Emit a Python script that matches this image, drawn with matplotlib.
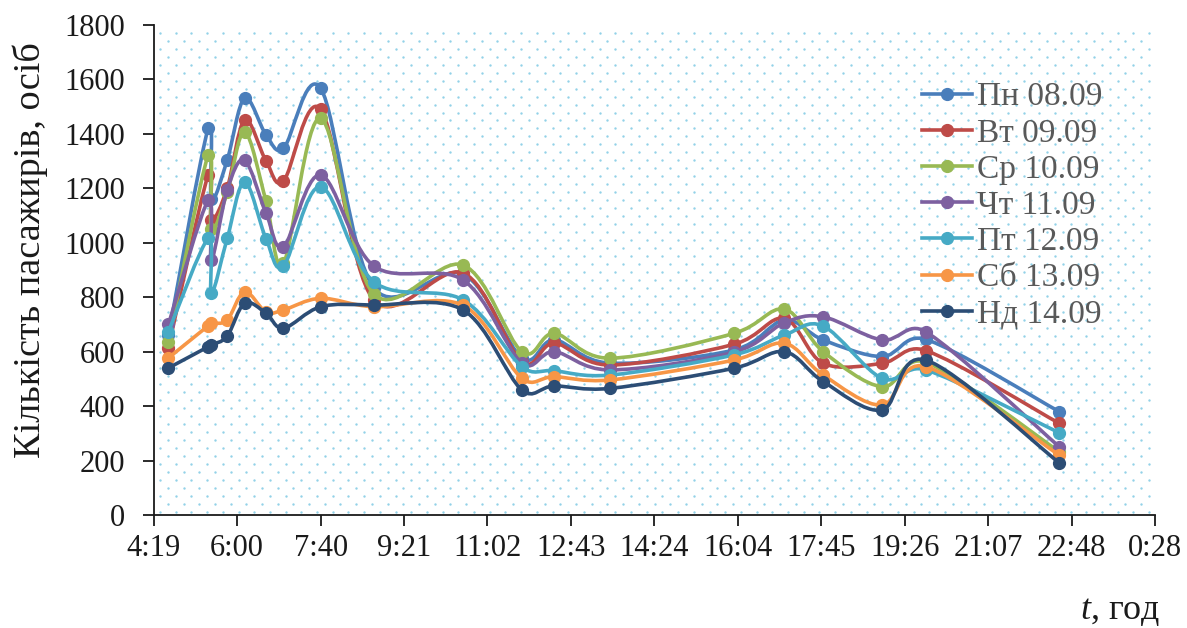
import numpy as np
import matplotlib
matplotlib.use("Agg")
import matplotlib.pyplot as plt
from matplotlib.path import Path
from matplotlib.patches import PathPatch
from matplotlib.lines import Line2D
from matplotlib.ticker import FixedLocator, FuncFormatter

plt.rcParams['font.family'] = ['Liberation Serif', 'DejaVu Serif']
plt.rcParams['mathtext.fontset'] = 'custom'
plt.rcParams['mathtext.it'] = 'Liberation Serif:italic'
plt.rcParams['mathtext.rm'] = 'Liberation Serif'

# measurement times (h:mm)
times = ["4:37", "5:25", "5:29", "5:48", "6:09", "6:35", "6:56", "7:41", "8:45",
         "10:33", "11:44", "12:23", "13:30", "16:00", "17:01", "17:48", "18:59",
         "19:52", "22:33"]

mon = [660, 1420, 1160, 1304, 1531, 1396, 1347, 1567, 835, 885, 577, 643, 558, 606, 716, 643, 582, 645, 380]
tue = [615, 1250, 1084, 1200, 1451, 1300, 1227, 1490, 790, 889, 563, 631, 551, 627, 722, 557, 557, 604, 337]
wed = [637, 1322, 1050, 1185, 1408, 1153, 925, 1457, 812, 918, 600, 667, 576, 667, 756, 600, 471, 561, 233]
thu = [700, 1157, 937, 1194, 1304, 1108, 986, 1249, 915, 863, 558, 600, 533, 598, 706, 728, 643, 673, 251]
fri = [673, 1016, 815, 1016, 1224, 1014, 915, 1206, 857, 790, 545, 530, 514, 588, 661, 694, 502, 533, 302]
sat = [577, 695, 704, 716, 820, 745, 753, 796, 765, 770, 502, 508, 496, 569, 631, 514, 404, 545, 220]
sun = [540, 618, 625, 657, 778, 741, 686, 765, 771, 753, 459, 474, 465, 539, 600, 490, 386, 569, 192]

labels = ["Пн 08.09", "Вт 09.09", "Ср 10.09", "Чт 11.09", "Пт 12.09", "Сб 13.09", "Нд 14.09"]
series = [mon, tue, wed, thu, fri, sat, sun]
colors = ["#4a7ebb", "#be4b48", "#98b954", "#7d60a0", "#46aac5", "#f79646", "#2c4d75"]

x = np.array([int(t.split(":")[0]) * 60 + int(t.split(":")[1]) for t in times], float)

W, H = 1187, 628
fig = plt.figure(figsize=(W / 100, H / 100), dpi=100)
ax = fig.add_axes([153.7 / W, 1 - 515 / H, (1155 - 153.7) / W, 490 / H])

x0, step = 259.2, 100.8
ax.set_xlim(x0, x0 + 12 * step)
ax.set_ylim(0, 1800)

# dotted pattern fill of the plot area
rows = np.arange(0, 61)
gx, gy = [], []
for r in rows:
    off = 6.3 if r % 2 == 0 else 14.1
    cols = np.arange(off, 1001, 15.7)
    gx.extend(cols / 1001.3)
    gy.extend(np.full(len(cols), (3 + r * 7.99) / 490))
ax.scatter(gx, gy, s=3, c="#92d2e8", lw=0, transform=ax.transAxes, zorder=0)


def smooth_curve(xs, ys):
    """Excel-like smoothed line: Catmull-Rom Bezier with capped handles."""
    pts = ax.transData.transform(np.column_stack([xs, ys]))
    n = len(pts)
    verts = [pts[0]]
    codes = [Path.MOVETO]
    for i in range(n - 1):
        p0 = pts[i - 1] if i > 0 else pts[i]
        p1, p2 = pts[i], pts[i + 1]
        p3 = pts[i + 2] if i + 2 < n else pts[i + 1]
        seg = np.hypot(*(p2 - p1))
        t1 = (p2 - p0) / 6
        t2 = (p3 - p1) / 6
        for t in (t1, t2):
            ln = np.hypot(*t)
            if ln > seg * 0.5:
                t *= seg * 0.5 / ln
        verts += [p1 + t1, p2 - t2, p2]
        codes += [Path.CURVE4] * 3
    verts = ax.transData.inverted().transform(np.array(verts))
    return Path(verts, codes)


for vals, col in zip(series, colors):
    ax.add_patch(PathPatch(smooth_curve(x, vals), fill=False, ec=col, lw=2.6,
                           capstyle='round', joinstyle='round', zorder=2))
    ax.plot(x, vals, ls='none', marker='o', ms=8.5, color=col, mec=col, zorder=2)

ticks = x0 + step * np.arange(13)
ax.xaxis.set_major_locator(FixedLocator(ticks))
ax.xaxis.set_major_formatter(FuncFormatter(
    lambda v, p: "%d:%02d" % ((int(v) // 60) % 24, int(v) % 60)))
ax.set_yticks(np.arange(0, 1801, 200))

for s in ("top", "right"):
    ax.spines[s].set_visible(False)
for s in ("left", "bottom"):
    ax.spines[s].set_linewidth(1.3)
    ax.spines[s].set_color("#1a1a1a")
ax.tick_params(direction='out', length=8, width=1.3, color="#1a1a1a",
               labelsize=22, labelcolor="#1a1a1a")
ax.tick_params(axis='x', pad=6)
ax.tick_params(axis='y', pad=12.5)

handles = [Line2D([], [], color=c, lw=2.6, marker='o', ms=8.5) for c in colors]
leg = ax.legend(handles, labels, loc='upper left', bbox_to_anchor=(0.767, 0.884),
                frameon=False, fontsize=24, labelspacing=0.17, handlelength=1.5,
                handletextpad=0.15, borderpad=0, borderaxespad=0)
for t in leg.get_texts():
    t.set_color("#595959")

fig.text(30 / W, 1 - 250 / H, "Кількість пасажирів, осіб", rotation=90,
         ha='center', va='center', fontsize=27.5, color="#1a1a1a")
fig.text(1160 / W, 1 - 612 / H, r"$t$, год", ha='right', va='center',
         fontsize=26, color="#1a1a1a")

fig.savefig("out.png", dpi=100)
